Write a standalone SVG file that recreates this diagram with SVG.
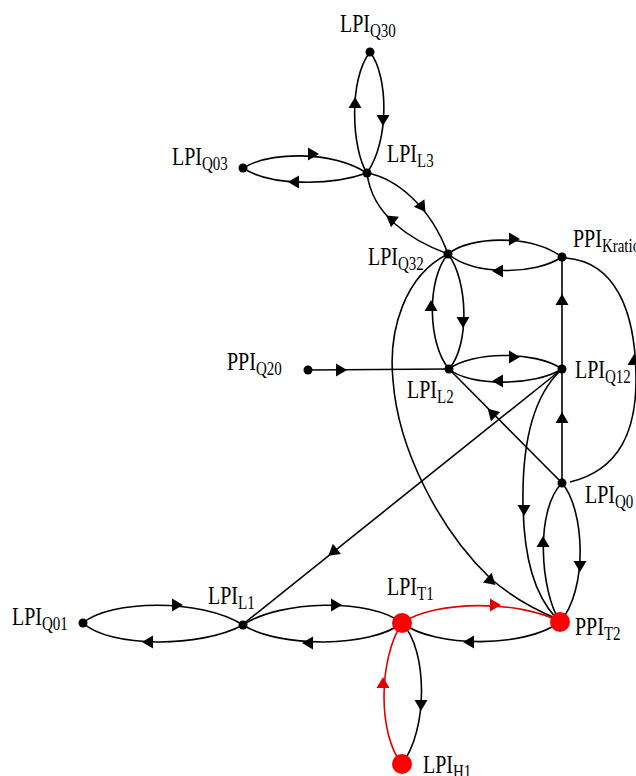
<svg xmlns="http://www.w3.org/2000/svg" xmlns:xlink="http://www.w3.org/1999/xlink" width="636" height="776" viewBox="0 0 636 776">
<style>
.e{fill:none;stroke:#000;stroke-width:1.6}
.r{fill:none;stroke:#e00000;stroke-width:1.6}
.a{fill:#000}
.ar{fill:#e00000}
.n{fill:#000}
.nr{fill:#ff0000}
.t{font-family:"Liberation Serif","Times New Roman",serif;font-size:20px;fill:#000}
.s{font-size:15px}
</style>
<defs>
<path id="ah" d="M6,0 L-5,-6.5 L-5,6.5 Z"/>
</defs>
<rect width="636" height="776" fill="#fff"/>
<g id="connectors">
<!-- Q30 - L3 -->
<path class="e" d="M367,173 C352,150 348,80 370,52"/>
<path class="e" d="M370,52 C388,75 390,140 367,173"/>
<use href="#ah" class="a" transform="translate(355,103) rotate(-90)"/>
<use href="#ah" class="a" transform="translate(383,120) rotate(90)"/>
<!-- Q03 - L3 -->
<path class="e" d="M243,168 C270,152 330,150 367,173"/>
<path class="e" d="M367,173 C330,186 270,186 243,168"/>
<use href="#ah" class="a" transform="translate(313,154) rotate(0)"/>
<use href="#ah" class="a" transform="translate(294,182) rotate(180)"/>
<!-- L3 - Q32 -->
<path class="e" d="M367,173 C395,178 430,205 448,254"/>
<path class="e" d="M448,254 C410,240 372,215 367,173"/>
<use href="#ah" class="a" transform="translate(422,207) rotate(55)"/>
<use href="#ah" class="a" transform="translate(391,219) rotate(217)"/>
<!-- Q32 - Kratio -->
<path class="e" d="M448,254 C470,236 530,234 562,257"/>
<path class="e" d="M562,257 C535,275 475,276 448,254"/>
<use href="#ah" class="a" transform="translate(514,239) rotate(0)"/>
<use href="#ah" class="a" transform="translate(498,271) rotate(180)"/>
<!-- Q32 - L2 -->
<path class="e" d="M449,369 C428,345 426,280 448,254"/>
<path class="e" d="M448,254 C468,280 470,345 449,369"/>
<use href="#ah" class="a" transform="translate(431,306) rotate(-90)"/>
<use href="#ah" class="a" transform="translate(463,322) rotate(90)"/>
<!-- L2 - Q12 -->
<path class="e" d="M449,369 C470,352 535,350 562,369"/>
<path class="e" d="M562,369 C535,386 470,387 449,369"/>
<use href="#ah" class="a" transform="translate(514,357) rotate(0)"/>
<use href="#ah" class="a" transform="translate(498,381) rotate(180)"/>
<!-- Q20 -> L2 -->
<path class="e" d="M308,370 L449,369"/>
<use href="#ah" class="a" transform="translate(341,370) rotate(0)"/>
<!-- Q12 -> Kratio -->
<path class="e" d="M562,369 L562,257"/>
<use href="#ah" class="a" transform="translate(562,300) rotate(-90)"/>
<!-- Q0 -> Q12 -->
<path class="e" d="M562,483 L562,369"/>
<use href="#ah" class="a" transform="translate(562,418) rotate(-90)"/>
<!-- Q0 -> Kratio -->
<path class="e" d="M570,482 C620,470 637,430 636,375 C635,310 615,262 566,258"/>
<use href="#ah" class="a" transform="translate(634,360) rotate(-90)"/>
<!-- Q0 -> L2 -->
<path class="e" d="M562,483 L449,369"/>
<use href="#ah" class="a" transform="translate(492,413) rotate(225)"/>
<!-- Q12 -> L1 -->
<path class="e" d="M562,369 L242,625"/>
<use href="#ah" class="a" transform="translate(333,552) rotate(141.3)"/>
<!-- Q12 -> T2 -->
<path class="e" d="M560,371 C530,400 522,450 523,505 C524,560 535,595 556,618"/>
<use href="#ah" class="a" transform="translate(524,510) rotate(90)"/>
<!-- Q0 - T2 -->
<path class="e" d="M560,622 C540,590 535,510 562,483"/>
<path class="e" d="M562,483 C585,510 588,590 560,622"/>
<use href="#ah" class="a" transform="translate(543,542) rotate(-90)"/>
<use href="#ah" class="a" transform="translate(580,566) rotate(90)"/>
<!-- Q32 -> T2 -->
<path class="e" d="M448,254 C405,275 388,330 393,380 C398,450 440,530 490,578 C515,600 540,612 560,620"/>
<use href="#ah" class="a" transform="translate(491,581) rotate(42)"/>
<!-- Q01 - L1 -->
<path class="e" d="M83,623 C110,600 200,598 243,625"/>
<path class="e" d="M243,625 C200,648 110,648 83,623"/>
<use href="#ah" class="a" transform="translate(177,605) rotate(0)"/>
<use href="#ah" class="a" transform="translate(148,642) rotate(180)"/>
<!-- L1 - T1 -->
<path class="e" d="M243,625 C280,600 370,598 402,623"/>
<path class="e" d="M402,623 C370,648 280,648 243,625"/>
<use href="#ah" class="a" transform="translate(336,605) rotate(0)"/>
<use href="#ah" class="a" transform="translate(308,643) rotate(180)"/>
<!-- T1 - T2 -->
<path class="r" d="M402,623 C435,600 520,600 560,622"/>
<path class="e" d="M560,622 C525,648 435,648 402,623"/>
<use href="#ah" class="ar" transform="translate(495,605) rotate(0)"/>
<use href="#ah" class="a" transform="translate(469,642) rotate(180)"/>
<!-- T1 - H1 -->
<path class="e" d="M402,623 C428,650 428,730 402,764"/>
<path class="r" d="M402,764 C378,735 378,660 402,623"/>
<use href="#ah" class="a" transform="translate(421,705) rotate(90)"/>
<use href="#ah" class="ar" transform="translate(383,683) rotate(-90)"/>
</g>
<g id="LPI_Q30"><circle class="n" cx="370" cy="52" r="4.5"/><g transform="translate(340,32) scale(1,1.22)"><text class="t">LPI<tspan class="s" dy="4">Q30</tspan></text></g></g>
<g id="LPI_Q03"><circle class="n" cx="243" cy="168" r="4.5"/><g transform="translate(172,165) scale(1,1.22)"><text class="t">LPI<tspan class="s" dy="4">Q03</tspan></text></g></g>
<g id="LPI_L3"><circle class="n" cx="367" cy="173" r="4.5"/><g transform="translate(387,162) scale(1,1.22)"><text class="t">LPI<tspan class="s" dy="4">L3</tspan></text></g></g>
<g id="LPI_Q32"><circle class="n" cx="448" cy="254" r="4.5"/><g transform="translate(368,265) scale(1,1.22)"><text class="t">LPI<tspan class="s" dy="4">Q32</tspan></text></g></g>
<g id="PPI_Kratio"><circle class="n" cx="562" cy="257" r="4.5"/><g transform="translate(573,247) scale(1,1.22)"><text class="t">PPI<tspan class="s" dy="4">Kratio</tspan></text></g></g>
<g id="PPI_Q20"><circle class="n" cx="308" cy="370" r="4.5"/><g transform="translate(227,370) scale(1,1.22)"><text class="t">PPI<tspan class="s" dy="4">Q20</tspan></text></g></g>
<g id="LPI_L2"><circle class="n" cx="449" cy="369" r="4.5"/><g transform="translate(407,398) scale(1,1.22)"><text class="t">LPI<tspan class="s" dy="4">L2</tspan></text></g></g>
<g id="LPI_Q12"><circle class="n" cx="562" cy="369" r="4.5"/><g transform="translate(575,378) scale(1,1.22)"><text class="t">LPI<tspan class="s" dy="4">Q12</tspan></text></g></g>
<g id="LPI_Q0"><circle class="n" cx="562" cy="483" r="4.5"/><g transform="translate(585,503) scale(1,1.22)"><text class="t">LPI<tspan class="s" dy="4">Q0</tspan></text></g></g>
<g id="LPI_Q01"><circle class="n" cx="83" cy="623" r="4.5"/><g transform="translate(12,625) scale(1,1.22)"><text class="t">LPI<tspan class="s" dy="4">Q01</tspan></text></g></g>
<g id="LPI_L1"><circle class="n" cx="243" cy="625" r="4.5"/><g transform="translate(208,604) scale(1,1.22)"><text class="t">LPI<tspan class="s" dy="4">L1</tspan></text></g></g>
<g id="LPI_T1"><circle class="nr" cx="402" cy="623" r="10"/><g transform="translate(387,595) scale(1,1.22)"><text class="t">LPI<tspan class="s" dy="4">T1</tspan></text></g></g>
<g id="PPI_T2"><circle class="nr" cx="560" cy="622" r="10"/><g transform="translate(575,635) scale(1,1.22)"><text class="t">PPI<tspan class="s" dy="4">T2</tspan></text></g></g>
<g id="LPI_H1"><circle class="nr" cx="402" cy="764" r="10"/><g transform="translate(423,773) scale(1,1.22)"><text class="t">LPI<tspan class="s" dy="4">H1</tspan></text></g></g>
</svg>
